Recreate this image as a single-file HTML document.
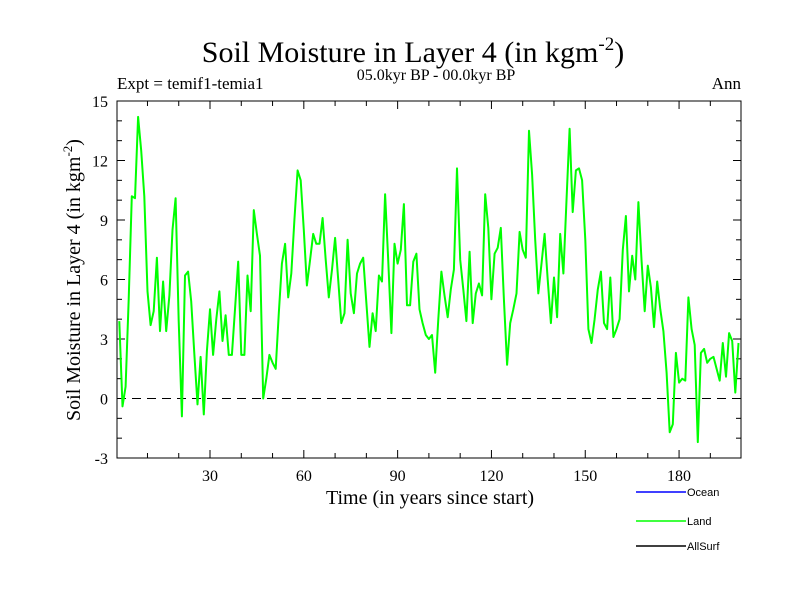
<!DOCTYPE html>
<html><head><meta charset="utf-8"><style>
body{margin:0;background:#fff;}
svg{display:block;}
.s{font-family:"Liberation Serif",serif;}
.a{font-family:"Liberation Sans",sans-serif;}
</style></head><body>
<svg id="chart" width="800" height="600">
<text class="s" x="413" y="62" font-size="30" text-anchor="middle">Soil Moisture in Layer 4 (in kgm<tspan dy="-12" font-size="19">-2</tspan><tspan dy="12">)</tspan></text>
<text class="s" x="436" y="80" font-size="16" text-anchor="middle">05.0kyr BP - 00.0kyr BP</text>
<text class="s" x="117" y="89" font-size="17">Expt = temif1-temia1</text>
<text class="s" x="741" y="89" font-size="17" text-anchor="end">Ann</text>
<text class="s" transform="translate(80,280) rotate(-90)" font-size="20" text-anchor="middle">Soil Moisture in Layer 4 (in kgm<tspan dy="-8" font-size="13">-2</tspan><tspan dy="8">)</tspan></text>
<text class="s" x="430" y="504" font-size="20" text-anchor="middle">Time (in years since start)</text>
<g id="axes"></g>
<g id="series"></g>
<g>
<line x1="636" y1="492" x2="686" y2="492" stroke="#0000ff" stroke-width="1.5"/>
<text class="a" x="687" y="496" font-size="11">Ocean</text>
<line x1="636" y1="521" x2="686" y2="521" stroke="#00ff00" stroke-width="1.5"/>
<text class="a" x="687" y="525" font-size="11">Land</text>
<line x1="636" y1="546" x2="686" y2="546" stroke="#000" stroke-width="1.5"/>
<text class="a" x="687" y="550" font-size="11">AllSurf</text>
</g>
</svg>
<script>
const xTicks=[30,60,90,120,150,180];
const yTicks=[-3,0,3,6,9,12,15];
const landValues=[3.9,-0.4,0.6,5,10.2,10.1,14.2,12.5,10.2,5.4,3.7,4.4,7.1,3.4,5.9,3.4,5.2,8.5,10.1,3.9,
-0.9,6.2,6.4,4.9,2.2,-0.3,2.1,-0.8,2.4,4.5,2.2,4,5.4,2.9,4.2,2.2,2.2,4.5,6.9,2.2,
2.2,6.2,4.4,9.5,8.3,7.2,0,1,2.2,1.8,1.5,4.3,6.8,7.8,5.1,6.3,9,11.5,11,8.5,
5.7,7,8.3,7.8,7.8,9.1,7,5.1,6.5,8.1,6,3.8,4.3,8,5.3,4.3,6.3,6.8,7.1,4.8,
2.6,4.3,3.4,6.2,5.9,10.3,7,3.3,7.8,6.8,7.5,9.8,4.7,4.7,6.9,7.3,4.5,3.8,3.2,3,
3.2,1.3,4,6.4,5.2,4.1,5.5,6.5,11.6,7,5.5,3.9,7.4,3.8,5.3,5.8,5.2,10.3,8.6,5,
7.3,7.6,8.6,5,1.7,3.8,4.5,5.3,8.4,7.5,7.1,13.5,11.3,8,5.3,6.8,8.3,6,3.8,6.1,
4.1,8.3,6.3,10,13.6,9.4,11.5,11.6,11,8,3.5,2.8,4,5.5,6.4,3.8,3.5,6.1,3.1,3.5,
4,7.5,9.2,5.4,7.2,6,9.9,7,4.4,6.7,5.6,3.6,5.9,4.5,3.4,1.3,-1.7,-1.3,2.3,0.8,
1,0.9,5.1,3.5,2.7,-2.2,2.3,2.5,1.8,2,2.1,1.5,0.9,2.8,1.1,3.3,2.9,0.3,2.8];
const L=117,R=741,T=101,B=458;
const xs=t=>116.2+3.127*t;
const ys=v=>B-(v+3)*(B-T)/18;
const NS='http://www.w3.org/2000/svg';
const ax=document.getElementById('axes');
function mk(tag,attrs,parent){const e=document.createElementNS(NS,tag);for(const k in attrs)e.setAttribute(k,attrs[k]);parent.appendChild(e);return e;}
const frame=mk('rect',{x:L,y:T,width:R-L,height:B-T,fill:'none',stroke:'#000','stroke-width':1},ax);


for(let t=10;t<200;t+=10){const big=t%30===0;const len=big?8:5;
const a=mk('line',{x1:xs(t),x2:xs(t),y1:B,y2:B-len,stroke:'#000'},ax);


const b=mk('line',{x1:xs(t),x2:xs(t),y1:T,y2:T+len,stroke:'#000'},ax);

}
xTicks.forEach(t=>{const e=mk('text',{x:xs(t),y:481,'font-size':16,'text-anchor':'middle','class':'s'},ax);e.textContent=t;

});
for(let v=-2;v<15;v++){const big=v%3===0;const len=big?8:5;
const a=mk('line',{x1:L,x2:L+len,y1:ys(v),y2:ys(v),stroke:'#000'},ax);


const b=mk('line',{x1:R,x2:R-len,y1:ys(v),y2:ys(v),stroke:'#000'},ax);

}
yTicks.forEach(v=>{const e=mk('text',{x:108,y:ys(v)+6,'font-size':16,'text-anchor':'end','class':'s'},ax);e.textContent=v;

});
const z=mk('line',{x1:L,x2:R,y1:ys(0),y2:ys(0),stroke:'#000','stroke-dasharray':'9,6'},ax);


const sg=document.getElementById('series');
const pts=landValues.map((v,i)=>xs(i+1).toFixed(1)+','+ys(v).toFixed(1)).join(' ');
const pl=mk('polyline',{points:pts,fill:'none',stroke:'#00ff00','stroke-width':2,'stroke-linejoin':'round'},sg);


</script>
</body></html>
